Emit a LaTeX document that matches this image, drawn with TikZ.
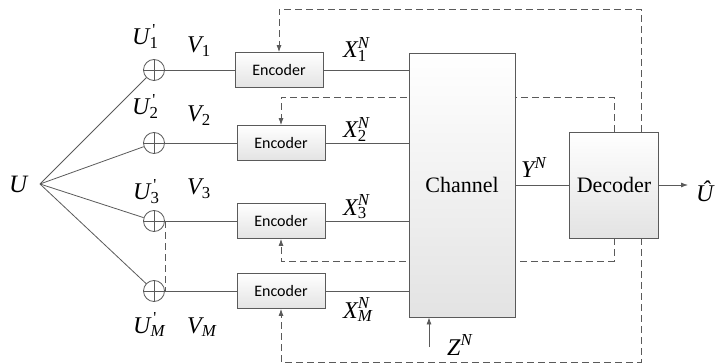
\documentclass[tikz,border=0pt]{standalone}
\usepackage{fontspec}
\setmainfont{Liberation Serif}
\newfontfamily\encfont{Carlito}
\usetikzlibrary{arrows.meta,calc}
\definecolor{linegray}{HTML}{5A5A5A}
\newcommand{\subsup}[3]{#1\rlap{\textsuperscript{#3}}\textsubscript{#2}}
\newcommand{\pr}{\,\upshape\textquotesingle}
\tikzset{line/.style={draw=linegray,line width=0.8pt},
  box/.style={line,top color=white,bottom color=gray!22,inner sep=0pt},
  enc/.style={box,minimum width=88pt,minimum height=35pt,font={\encfont\fontsize{16}{18}\selectfont}},
  sum/.style={circle,line,minimum size=21pt,inner sep=0pt,
    path picture={\draw[linegray,line width=0.8pt] (path picture bounding box.north) -- (path picture bounding box.south)
      (path picture bounding box.west) -- (path picture bounding box.east);}},
  fb/.style={line,dash pattern=on 7pt off 4pt},
  tip/.style={-{Latex[length=7pt,width=5pt]}},
  var/.style={font={\itshape\fontsize{24}{26}\selectfont},inner sep=0pt,anchor=base west}}

\begin{document}
\begin{tikzpicture}[x=1pt,y=-1pt]
  \useasboundingbox (0,0) rectangle (719,363);

  \coordinate (u0) at (40,184);
  \node [var,font={\itshape\fontsize{25}{27}\selectfont}] (U) at (9,193) {U};

  \node [sum] (s1) at (154,70) {};
  \node [sum] (s2) at (154,143) {};
  \node [sum] (s3) at (154,221) {};
  \node [sum] (sM) at (154,291) {};

  \node [enc] (enc1) at (279,70) {Encoder};
  \node [enc] (enc2) at (281,143) {Encoder};
  \node [enc] (enc3) at (281,221) {Encoder};
  \node [enc] (encM) at (281,291) {Encoder};

  \node [box,minimum width=89pt,minimum height=106pt,font={\fontsize{22}{24}\selectfont}] (dec) at (614,185) {Decoder};

  \coordinate (top) at (0,9);
  \coordinate (mid2) at (0,97);
  \coordinate (mid3) at (0,261);
  \coordinate (bot) at (0,362);
  \coordinate (d1) at ($(dec.north east)+(-18,0)$);
  \coordinate (d4) at ($(dec.south east)+(-18,0)$);

  \draw [fb,tip] (d1) -- (d1 |- top) -| (enc1.north);
  \draw [fb,tip] (dec.north) -- (dec.north |- mid2) -| (enc2.north);
  \draw [fb,tip] (dec.south) -- (dec.south |- mid3) -| (enc3.south);
  \draw [fb,tip] (d4) -- (d4 |- bot) -| (encM.south);
  \draw [fb] (s3.east) -- (sM.east);

  \node [box,minimum width=106pt,minimum height=264pt,font={\fontsize{22}{24}\selectfont}] (chan) at (462,185) {Channel};

  \draw [line] (u0) -- (s1);
  \draw [line] (u0) -- (s2);
  \draw [line] (u0) -- (s3);
  \draw [line] (u0) -- (sM);

  \draw [line] (s1) -- (enc1);
  \draw [line] (s2) -- (enc2);
  \draw [line] (s3) -- (enc3);
  \draw [line] (sM) -- (encM);

  \draw [line] (enc1.east) -- (enc1.east -| chan.west);
  \draw [line] (enc2.east) -- (enc2.east -| chan.west);
  \draw [line] (enc3.east) -- (enc3.east -| chan.west);
  \draw [line] (encM.east) -- (encM.east -| chan.west);
  \draw [line] (chan.east |- dec.west) -- (dec.west);

  \node [var] (u1) at (132,45) {\subsup{U}{\upshape 1}{\pr}};
  \node [var] (u2) at (132,115) {\subsup{U}{\upshape 2}{\pr}};
  \node [var] (u3) at (133,200) {\subsup{U}{\upshape 3}{\pr}};
  \node [var] (uM) at (133,333) {\subsup{U}{M}{\pr}};
  \node [var] (v1) at (187,53) {V\textsubscript{\upshape 1}};
  \node [var] (v2) at (187,122) {V\textsubscript{\upshape 2}};
  \node [var] (v3) at (187,195) {V\textsubscript{\upshape 3}};
  \node [var] (vM) at (187,333) {V\textsubscript{M}};

  \node [var] (x1) at (343,58) {\subsup{X}{\upshape 1}{N}};
  \node [var] (x2) at (343,138) {\subsup{X}{\upshape 2}{N}};
  \node [var] (x3) at (343,215) {\subsup{X}{\upshape 3}{N}};
  \node [var] (xM) at (343,318) {\subsup{X}{M}{N}};

  \node [var] (Y) at (521,178) {Y\textsuperscript{N}};
  \node [var] (Z) at (447,355) {Z\textsuperscript{N}};
  \coordinate (zin) at (429,347);
  \draw [line,tip] (zin) -- (zin |- chan.south);

  \node [var] (uhat) at (696,201) {Û};
  \draw [line,tip,shorten >=8pt] (dec.east) -- (dec.east -| uhat.west);
\end{tikzpicture}
\end{document}
